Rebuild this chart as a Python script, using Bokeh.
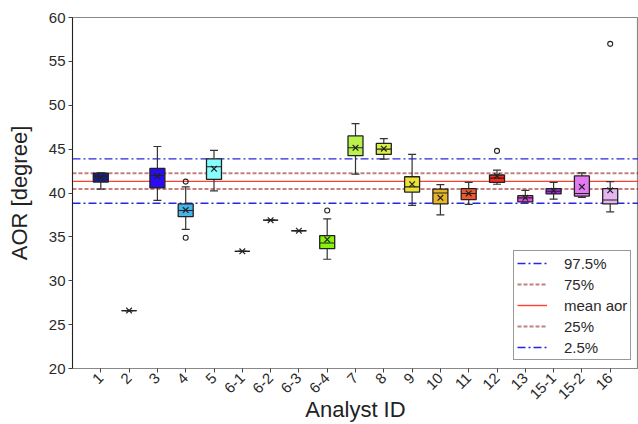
import numpy as np
from bokeh.plotting import figure
from bokeh.models import Range1d, FixedTicker, Legend, LegendItem
from bokeh.embed import file_html
from bokeh.resources import INLINE

# ---- data -------------------------------------------------------------
analyst_ids = ["1", "2", "3", "4", "5", "6-1", "6-2", "6-3", "6-4", "7",
               "8", "9", "10", "11", "12", "13", "15-1", "15-2", "16"]

q1 = [41.25, 26.6, 40.6, 37.3, 41.55, 33.35, 36.9, 35.7, 33.65, 44.25,
      44.4, 40.1, 38.75, 39.25, 41.2, 39.0, 39.9, 39.65, 38.75]
median = [41.9, 26.6, 42.0, 38.0, 43.0, 33.35, 36.9, 35.7, 34.3, 45.15,
          45.0, 40.7, 40.0, 39.95, 41.7, 39.45, 40.2, 39.95, 39.2]
q3 = [42.25, 26.6, 42.8, 38.75, 43.9, 33.35, 36.9, 35.7, 35.15, 46.5,
      45.65, 41.85, 40.45, 40.5, 42.05, 39.7, 40.5, 41.95, 40.5]
whisker_low = [40.45, 26.6, 39.15, 35.85, 40.25, 33.35, 36.9, 35.7, 32.45, 42.15,
               43.85, 38.6, 37.5, 38.7, 41.0, 39.0, 39.3, 39.5, 37.85]
whisker_high = [42.3, 26.6, 45.3, 40.7, 44.85, 33.35, 36.9, 35.7, 37.05, 47.9,
                46.2, 44.4, 40.95, 41.2, 42.6, 40.3, 41.2, 42.3, 41.3]
analyst_mean = [41.75, 26.6, 41.95, 38.05, 42.75, 33.35, 36.9, 35.7, 34.7, 45.15,
                45.05, 41.0, 39.45, 39.95, 41.95, 39.45, 40.25, 40.7, 40.3]
box_colors = ["#1c1c8a", "#d0d0d0", "#2a0cf2", "#45b4e6", "#86fcfc", "#d0d0d0",
              "#d0d0d0", "#d0d0d0", "#86f20e", "#b8f24a", "#d8f046", "#ece236",
              "#e8b42a", "#f2562a", "#fc2a1a", "#f048ec", "#a62cf0", "#e47af2",
              "#e6b6f2"]

outlier_ids = ["4", "4", "6-4", "12", "16"]
outlier_values = [41.3, 34.9, 38.0, 44.8, 57.0]

ref_labels = ["97.5%", "75%", "mean aor", "25%", "2.5%"]
ref_values = [43.88, 42.25, 41.33, 40.45, 38.83]
ref_colors = ["#1a1ae0", "#8b0000", "#ff2a1a", "#8b0000", "#1a1ae0"]
ref_alpha = [0.95, 0.5, 0.9, 0.5, 0.95]
ref_dash = ["8 3 2 3", "4 2", "solid", "4 2", "8 3 2 3"]
ref_width = [1.3, 2.0, 1.4, 2.0, 1.3]

y_ticks = [20, 25, 30, 35, 40, 45, 50, 55, 60]

# ---- figure -----------------------------------------------------------
FONT = "Liberation Sans"
positions = list(range(1, len(analyst_ids) + 1))
x_lo, x_hi = 0, len(analyst_ids) + 1

p = figure(width=638, height=424, title=None,
           x_range=Range1d(x_lo, x_hi), y_range=Range1d(20, 60),
           output_backend="svg", toolbar_location=None,
           min_border_left=72, min_border_right=0,
           min_border_top=17, min_border_bottom=56)
p.xgrid.visible = False
p.ygrid.visible = False
p.outline_line_color = "#888888"
p.outline_line_width = 1.2
p.background_fill_color = "white"
p.border_fill_color = "white"

# reference lines (drawn underneath the boxes)
ref_renderers = []
for lab, v, c, a, d, w in zip(ref_labels, ref_values, ref_colors, ref_alpha,
                              ref_dash, ref_width):
    r = p.line(x=[x_lo, x_hi], y=[v, v], line_color=c, line_alpha=a,
               line_dash=d, line_width=w)
    ref_renderers.append((lab, r))

# boxes
box_w = 0.53
half = box_w / 2
p.segment(x0=positions, y0=q3, x1=positions, y1=whisker_high,
          line_color="#333333", line_width=1.2)
p.segment(x0=positions, y0=q1, x1=positions, y1=whisker_low,
          line_color="#333333", line_width=1.2)
p.scatter(x=positions, y=whisker_high, marker="dash", size=8,
          line_color="#333333", line_width=1.2)
p.scatter(x=positions, y=whisker_low, marker="dash", size=8,
          line_color="#333333", line_width=1.2)
p.vbar(x=positions, width=box_w, bottom=q1, top=q3, fill_color=box_colors,
       line_color="#222222", line_width=1.3)
p.segment(x0=[x - half for x in positions], y0=median,
          x1=[x + half for x in positions], y1=median,
          line_color="#222222", line_width=1.1)
p.scatter(x=positions, y=analyst_mean, marker="x", size=8,
          line_color="#222222", line_width=1.2)

# outliers
outlier_x = [analyst_ids.index(a) + 1 for a in outlier_ids]
p.scatter(x=outlier_x, y=outlier_values, marker="circle", size=5,
          fill_color=None, line_color="#222222", line_width=1.1)

# axes
p.xaxis.ticker = FixedTicker(ticks=positions)
p.xaxis.major_label_overrides = {x: a for x, a in zip(positions, analyst_ids)}
p.xaxis.major_label_orientation = np.pi / 4
p.yaxis.ticker = FixedTicker(ticks=y_ticks)
for ax in (p.xaxis[0], p.yaxis[0]):
    ax.major_label_text_font = FONT
    ax.major_label_text_font_size = "15px"
    ax.major_label_text_color = "#2a2a2a"
    ax.major_tick_in = 0
    ax.major_tick_out = 4
    ax.minor_tick_in = 0
    ax.minor_tick_out = 0
    ax.major_label_standoff = 3
    ax.axis_label_text_font = FONT
    ax.axis_label_text_font_style = "normal"
    ax.axis_label_text_font_size = "22px"
    ax.axis_label_text_color = "#222222"
p.xaxis.axis_line_color = "#888888"
p.xaxis.major_tick_line_color = "#444444"
p.yaxis.axis_line_color = "#222222"
p.yaxis.major_tick_line_color = "#444444"
p.yaxis.axis_label = "AOR [degree]"
p.yaxis.axis_label_standoff = 14
p.xaxis.axis_label = "Analyst ID"
p.xaxis.axis_label_standoff = -10

# legend
legend = Legend(items=[LegendItem(label=lab, renderers=[r]) for lab, r in ref_renderers],
                location=(441, 8), label_text_font=FONT,
                label_text_font_size="15px", label_text_color="#2a2a2a",
                glyph_width=30, glyph_height=18, label_height=18,
                label_standoff=17, spacing=3, padding=3, margin=0,
                border_line_color="#333333", border_line_width=1,
                background_fill_alpha=1.0)
p.add_layout(legend)

open("out.html", "w").write(file_html(p, INLINE))
